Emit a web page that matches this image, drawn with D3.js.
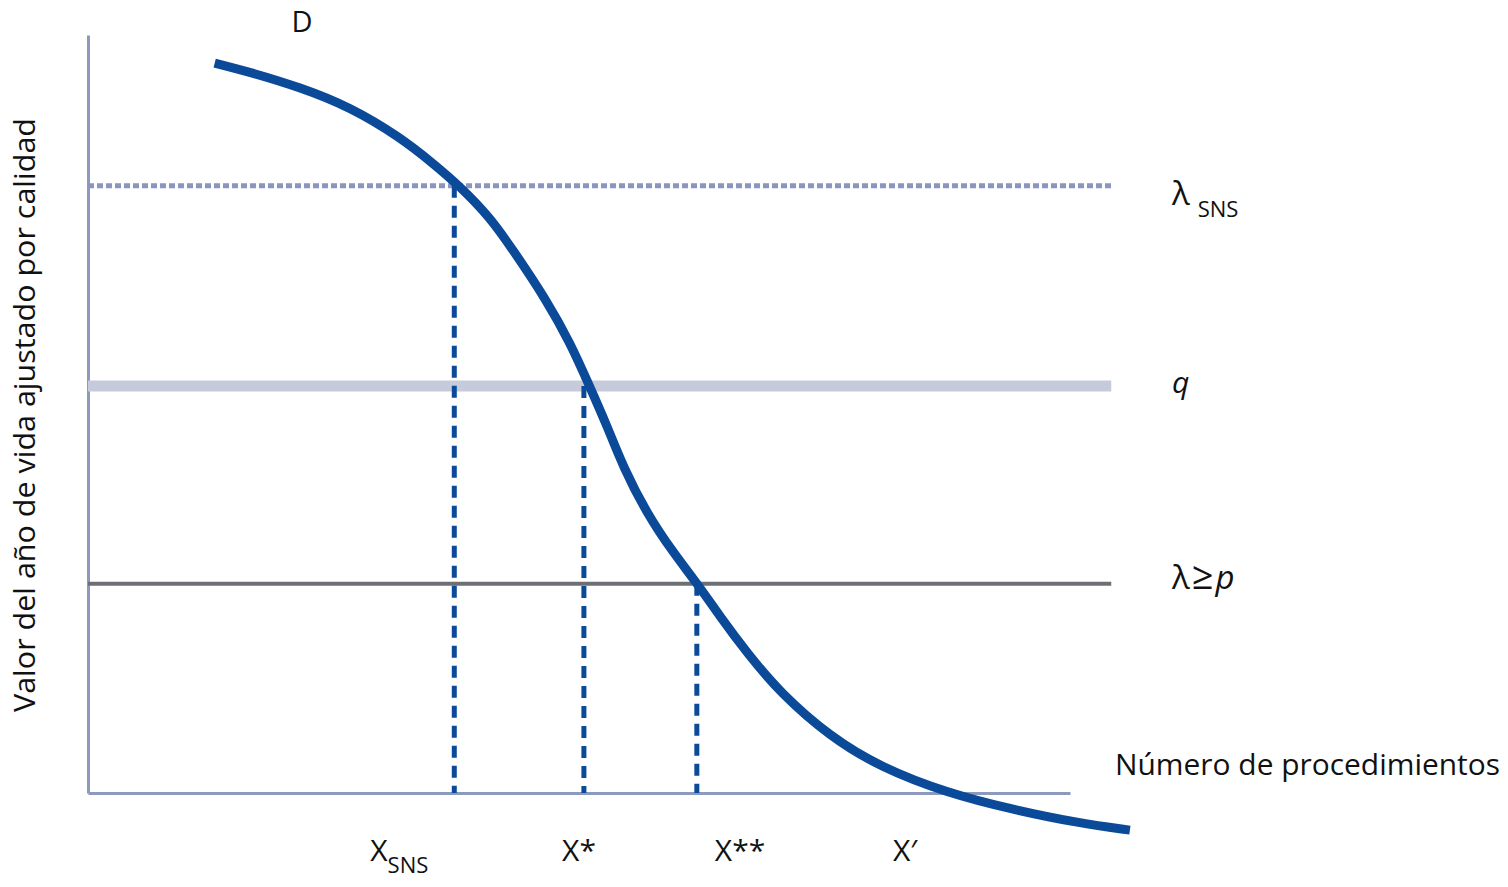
<!DOCTYPE html>
<html>
<head>
<meta charset="utf-8">
<script src="https://cdn.jsdelivr.net/npm/d3@7"></script>
<style>
	body { margin: 0; background: #fff; }
	svg text { font-family: 'Open Sans', 'Noto Sans', sans-serif; fill: #111; }
</style>
</head>
<body>
<div id="chart"></div>
<script>
// demand curve D (conceptual units, 0-100 on both axes)
const curveX = [12.9, 16.5, 21.6, 26.7, 31.8, 35.1, 37.9, 40.9, 43.3, 46.7, 49.1, 51.1, 52.9, 54.5, 56.9, 59.6, 62.0, 64.4, 67.1, 70.5, 75.6, 80.7, 87.5, 94.2, 101.0, 106.1];
const curveY = [96.3, 95.1, 93.1, 90.5, 86.5, 83.1, 80.0, 76.0, 71.6, 65.0, 59.4, 53.6, 48.3, 43.0, 36.9, 31.7, 27.7, 23.2, 18.5, 13.2, 7.4, 3.4, 0.0, -2.2, -4.0, -4.9];

// horizontal threshold levels
const levelNames = ['lambdaSNS', 'q', 'lambdaP'];
const levelValues = [80.1, 53.7, 27.6];

// vertical drop lines at the crossings
const dropX = [37.3, 50.5, 62.0];
const dropTop = [80.1, 53.7, 27.6];

// x tick labels
const tickMain = ['X', 'X*', 'X**', 'X\u2032'];
const tickSub = ['SNS', '', '', ''];
const tickPos = [31.7, 50.0, 66.4, 83.2];

const W = 1508, H = 887;
const svg = d3.select('#chart').append('svg').attr('width', W).attr('height', H);

const x = d3.scaleLinear().domain([0, 100]).range([88, 1070]);
const y = d3.scaleLinear().domain([0, 100]).range([793, 35]);

const navy = '#0b4a98';
const lineEnd = 104.2;

// axes (no ticks)
const xAxis = svg.append('g')
	.attr('transform', 'translate(0,' + y(0) + ')')
	.call(d3.axisBottom(x).tickValues([]).tickSizeOuter(0));
const yAxis = svg.append('g')
	.attr('transform', 'translate(' + x(0) + ',0)')
	.call(d3.axisLeft(y).tickValues([]).tickSizeOuter(0));
[xAxis, yAxis].forEach(a => a.select('.domain').attr('stroke', '#8e99be').attr('stroke-width', 3));

// horizontal levels
const levelStyle = {
	lambdaSNS: { stroke: '#8b95c0', width: 5, dash: '6,3' },
	q: { stroke: '#c6cbdb', width: 11, dash: null },
	lambdaP: { stroke: '#6e6f72', width: 4, dash: null },
};
svg.append('g')
	.selectAll('line')
	.data(levelNames)
	.enter()
	.append('line')
	.attr('x1', x(0))
	.attr('x2', x(lineEnd))
	.attr('y1', (d, i) => y(levelValues[i]))
	.attr('y2', (d, i) => y(levelValues[i]))
	.attr('stroke', d => levelStyle[d].stroke)
	.attr('stroke-width', d => levelStyle[d].width)
	.attr('stroke-dasharray', d => levelStyle[d].dash);

// vertical dashed drops
svg.append('g')
	.selectAll('line')
	.data(dropX)
	.enter()
	.append('line')
	.attr('x1', d => x(d))
	.attr('x2', d => x(d))
	.attr('y1', (d, i) => y(dropTop[i]))
	.attr('y2', y(0))
	.attr('stroke', navy)
	.attr('stroke-width', 5)
	.attr('stroke-dasharray', '12,8');

// demand curve
const curveData = curveX.map((v, i) => [v, curveY[i]]);
const line = d3.line()
	.x(d => x(d[0]))
	.y(d => y(d[1]))
	.curve(d3.curveBasis);
svg.append('path')
	.attr('d', line(curveData))
	.attr('fill', 'none')
	.attr('stroke', navy)
	.attr('stroke-width', 9);

// labels
svg.append('text')
	.attr('x', 302)
	.attr('y', 32)
	.attr('text-anchor', 'middle')
	.style('font-size', '29px')
	.text('D');

const lam = svg.append('text')
	.attr('x', 1172)
	.attr('y', y(levelValues[0]) + 19)
	.style('font-size', '33px');
lam.append('tspan').text('\u03bb');
lam.append('tspan').attr('dx', 8).attr('dy', 12).style('font-size', '22px').text('SNS');

svg.append('text')
	.attr('x', 1172)
	.attr('y', y(levelValues[1]) + 7)
	.style('font-size', '30px')
	.style('font-style', 'italic')
	.text('q');

const lp = svg.append('text')
	.attr('x', 1172)
	.attr('y', y(levelValues[2]) + 5)
	.style('font-size', '33px');
lp.append('tspan').text('\u03bb');
lp.append('tspan').attr('dx', 2).style('font-size', '38px').text('\u2265');
lp.append('tspan').attr('dx', 2).style('font-style', 'italic').text('p');

svg.append('text')
	.attr('x', 1115)
	.attr('y', 775)
	.style('font-size', '30px')
	.attr('textLength', 385)
	.attr('lengthAdjust', 'spacingAndGlyphs')
	.text('Número de procedimientos');

svg.append('text')
	.attr('transform', 'translate(35,415) rotate(-90)')
	.attr('text-anchor', 'middle')
	.style('font-size', '30px')
	.attr('textLength', 594)
	.attr('lengthAdjust', 'spacingAndGlyphs')
	.text('Valor del año de vida ajustado por calidad');

const ticks = svg.append('g')
	.selectAll('text')
	.data(tickMain)
	.enter()
	.append('text')
	.attr('x', (d, i) => x(tickPos[i]))
	.attr('y', 861)
	.attr('text-anchor', 'middle')
	.style('font-size', '30px');
ticks.append('tspan').text(d => d);
ticks.append('tspan')
	.attr('dy', 12)
	.style('font-size', '22px')
	.text((d, i) => tickSub[i]);
</script>
</body>
</html>
